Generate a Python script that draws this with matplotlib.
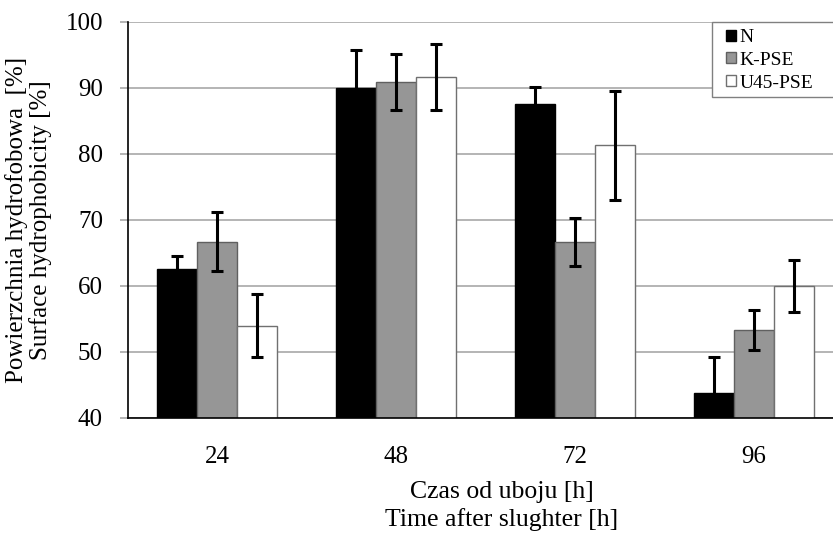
import numpy as np
import matplotlib.pyplot as plt
from matplotlib.patches import Rectangle

plt.rcParams["font.family"] = ["Liberation Serif", "DejaVu Serif"]

hours = ["24", "48", "72", "96"]
series = ["N", "K-PSE", "U45-PSE"]
n_vals = [62.6, 90.0, 87.6, 43.8]
k_vals = [66.7, 90.9, 66.7, 53.3]
u_vals = [54.0, 91.7, 81.3, 60.0]
n_err = [2.0, 5.7, 2.6, 5.5]
k_err = [4.5, 4.3, 3.6, 3.0]
u_err = [4.8, 5.0, 8.2, 3.9]

colors = ["#000000", "#969696", "#ffffff"]
edges = ["#000000", "#606060", "#707070"]

fig = plt.figure(figsize=(8.33, 5.42), dpi=100)
ax = fig.add_axes([128 / 833, 124 / 542, 715 / 833, 396 / 542])

x = np.arange(len(hours))
w = 0.2235
for i, (vals, errs) in enumerate(zip([n_vals, k_vals, u_vals], [n_err, k_err, u_err])):
    ax.bar(x + (i - 1) * w, vals, w, color=colors[i], edgecolor=edges[i],
           linewidth=1.0, label=series[i], zorder=2)
    ax.errorbar(x + (i - 1) * w, vals, yerr=errs, fmt="none", ecolor="black",
                elinewidth=2.2, capsize=4.6, capthick=2.2, zorder=3)

ax.set_xlim(-0.5, 3.5)
ax.set_ylim(40, 100)
ax.set_yticks(range(40, 101, 10))
ax.set_xticks(x)
ax.set_xticklabels(hours)
ax.yaxis.grid(True, color="#a0a0a0", linewidth=1.1, zorder=0)
ax.set_axisbelow(True)

for s in ["top", "right"]:
    ax.spines[s].set_visible(False)
ax.spines["left"].set_linewidth(1.2)
ax.spines["bottom"].set_linewidth(1.2)

ax.tick_params(axis="y", length=6, width=1.1, color="#a0a0a0", pad=12, labelsize=18)
ax.tick_params(axis="x", length=0, pad=20, labelsize=18)

ax.set_ylabel("Powierzchnia hydrofobowa  [%]\nSurface hydrophobicity [%]", fontsize=18,
              linespacing=1.05)
ax.yaxis.set_label_coords((52 - 128) / 715, 0.5)
ax.set_xlabel("Czas od uboju [h]\nTime after slughter [h]", fontsize=18.5, linespacing=1.25)
ax.xaxis.set_label_coords((502 - 128) / 715, -0.16)

# legend box (its right side runs past the picture edge, as in the original)
ax.add_patch(Rectangle((712 / 833, 1 - 97 / 542), 130 / 833, 75 / 542,
                       transform=fig.transFigure, facecolor="white", clip_on=False,
                       edgecolor="#808080", linewidth=1.0, zorder=4))
leg = ax.legend(loc="upper left", bbox_to_anchor=(726 / 833, 1 - 29 / 542),
                bbox_transform=fig.transFigure, fontsize=14, frameon=False,
                handlelength=0.5, handleheight=0.5, handletextpad=0.2,
                labelspacing=0.3, borderpad=0, borderaxespad=0)
leg.set_zorder(5)

fig.savefig("out.png", dpi=100)
